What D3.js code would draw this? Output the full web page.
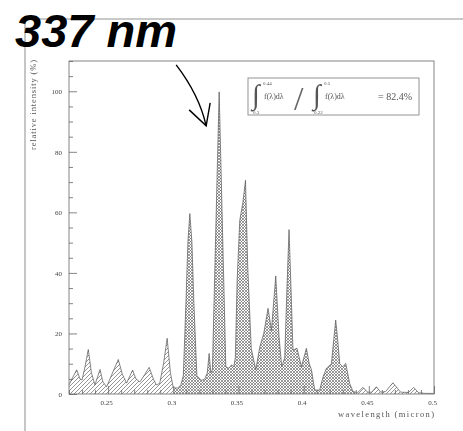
<!DOCTYPE html>
<html>
<head>
<meta charset="utf-8">
<script src="https://cdn.jsdelivr.net/npm/d3@7"></script>
<style>
  html, body { margin: 0; padding: 0; background: #fff; }
  svg { display: block; }
</style>
</head>
<body>
<svg id="chart" width="463" height="431"></svg>
<script>
// Emission spectrum sampled along the wavelength axis (micron) and relative intensity (%)
const wavelength = [
  0.2200, 0.2223, 0.2259, 0.2284, 0.2300, 0.2323, 0.2348, 0.2372, 0.2399, 0.2418,
  0.2438, 0.2460, 0.2489, 0.2529, 0.2578, 0.2609, 0.2642, 0.2688, 0.2713, 0.2744,
  0.2782, 0.2815, 0.2847, 0.2870, 0.2896, 0.2925, 0.2953, 0.2978, 0.3000,
  0.3035, 0.3058, 0.3077, 0.3097, 0.3112, 0.3127, 0.3143, 0.3158, 0.3181, 0.3217,
  0.3242, 0.3261, 0.3275, 0.3288, 0.3300, 0.3352, 0.3403, 0.3426, 0.3447, 0.3464,
  0.3476, 0.3490, 0.3510, 0.3533, 0.3554, 0.3571, 0.3598, 0.3633, 0.3664, 0.3694,
  0.3727, 0.3753, 0.3786, 0.3811, 0.3832, 0.3855, 0.3872, 0.3888, 0.3903, 0.3918,
  0.3949, 0.3983, 0.4021, 0.4043, 0.4060, 0.4085, 0.4123, 0.4149, 0.4175, 0.4213,
  0.4231, 0.4246, 0.4261, 0.4277, 0.4300, 0.4323, 0.4353, 0.4379, 0.4400,
  0.4415, 0.4455, 0.4491, 0.4522, 0.4558, 0.4591, 0.4629, 0.4685, 0.4744, 0.4805,
  0.4844, 0.4882, 0.4936, 0.5000
];
const intensity = [
  3.0, 5.0, 8.0, 5.0, 4.6, 9.0, 14.7, 7.0, 3.0, 5.5,
  8.1, 4.0, 2.4, 6.5, 11.4, 6.5, 3.6, 7.9, 5.0, 4.0,
  6.5, 8.8, 5.0, 3.0, 3.5, 10.0, 18.4, 7.0, 2.0,
  2.0, 3.0, 6.0, 30.0, 50.0, 59.6, 50.0, 30.0, 6.0, 4.5,
  5.0, 7.0, 13.4, 7.0, 8.0, 99.8, 9.0, 8.5, 9.6, 9.0,
  12.0, 37.6, 57.4, 63.0, 70.6, 42.0, 15.0, 8.0, 15.6, 20.0,
  28.3, 21.0, 39.0, 19.0, 9.0, 12.0, 35.0, 54.3, 35.0, 14.5,
  15.1, 9.0, 15.1, 10.0, 8.0, 1.3, 1.3, 5.7, 8.5, 10.0,
  18.0, 24.4, 18.0, 10.0, 9.0, 10.1, 3.5, 0.8, 0.6,
  0.5, 2.2, 0.6, 0.6, 2.4, 0.6, 0.8, 3.7, 0.6, 0.5,
  2.2, 0.4, 0.2, 0.2
];

// Axis ticks
const xMajorTicks = [0.25, 0.3, 0.35, 0.4, 0.45, 0.5];
const xTickLabels = ["0.25", "0.3", "0.35", "0.4", "0.45", "0.5"];
const yMajorTicks = [0, 20, 40, 60, 80, 100];
const yTickLabels = ["0", "20", "40", "60", "80", "100"];

// Integration bands: [0.22, 0.3] and [0.44, 0.5] outside, [0.3, 0.44] inside
const bandEdges = [0.22, 0.3, 0.44, 0.5];
const bandFill = ["diag", "cross", "diag"];
const integralLimits = { num: ["0.3", "0.44"], den: ["0.22", "0.5"] };
const ratioLabel = "= 82.4%";
const peakLabel = "337 nm";

const svg = d3.select("#chart");
const W = 463, H = 431;
const plot = { left: 69, right: 434, top: 61, bottom: 394 };

const x = d3.scaleLinear().domain([0.22, 0.5]).range([plot.left, plot.right]);
const y = d3.scaleLinear().domain([0, 110]).range([plot.bottom, plot.top]);

const data = wavelength.map((w, i) => [w, intensity[i]]);

const defs = svg.append("defs");

// Soft focus for the scanned figure
defs.append("filter").attr("id", "soft")
  .attr("x", "-5%").attr("y", "-5%").attr("width", "110%").attr("height", "110%")
  .append("feGaussianBlur").attr("stdDeviation", 0.6);

// Hatch patterns
const pDiag = defs.append("pattern").attr("id", "diag")
  .attr("patternUnits", "userSpaceOnUse").attr("width", 4).attr("height", 4);
pDiag.append("path").attr("d", "M-1,1 L1,-1 M0,4 L4,0 M3,5 L5,3")
  .attr("stroke", "#7a7a7a").attr("stroke-width", 0.8);

const pCross = defs.append("pattern").attr("id", "cross")
  .attr("patternUnits", "userSpaceOnUse").attr("width", 3).attr("height", 3);
pCross.append("path").attr("d", "M-1,1 L1,-1 M0,3 L3,0 M2,4 L4,2 M-1,2 L1,4 M0,0 L3,3 M2,-1 L4,1")
  .attr("stroke", "#606060").attr("stroke-width", 0.65);

bandEdges.slice(0, -1).forEach((e, i) => {
  defs.append("clipPath").attr("id", "band" + i)
    .append("rect")
    .attr("x", x(e)).attr("y", plot.top)
    .attr("width", x(bandEdges[i + 1]) - x(e))
    .attr("height", plot.bottom - plot.top);
});

const fig = svg.append("g").attr("filter", "url(#soft)");

// Page frame of the figure
fig.append("path")
  .attr("d", `M25,${H} L25,19 L${W},19`)
  .attr("fill", "none").attr("stroke", "#b8b8b8").attr("stroke-width", 1.6);

// Spectrum, one hatched area per integration band
const area = d3.area().x(d => x(d[0])).y0(y(0)).y1(d => y(d[1]));
const line = d3.line().x(d => x(d[0])).y(d => y(d[1]));

bandFill.forEach((f, i) => {
  fig.append("path").datum(data)
    .attr("d", area)
    .attr("clip-path", `url(#band${i})`)
    .attr("fill", `url(#${f})`);
});
fig.append("path").datum(data)
  .attr("d", line)
  .attr("fill", "none").attr("stroke", "#555").attr("stroke-width", 0.7);

// Plot frame
fig.append("rect")
  .attr("x", plot.left).attr("y", plot.top)
  .attr("width", plot.right - plot.left).attr("height", plot.bottom - plot.top)
  .attr("fill", "none").attr("stroke", "#777").attr("stroke-width", 0.9);

const tickFont = "'Liberation Serif', serif";

// Y axis: major and minor ticks pointing inward
fig.append("g").attr("transform", `translate(${plot.left},0)`)
  .call(d3.axisLeft(y).tickValues(yMajorTicks).tickSize(-8).tickPadding(7)
    .tickFormat((d, i) => yTickLabels[i]));
fig.append("g").attr("transform", `translate(${plot.left},0)`)
  .call(d3.axisLeft(y).tickValues(d3.range(0, 111, 5).filter(v => v % 20 !== 0))
    .tickSize(-4).tickFormat(""));

// X axis
const xAxis = fig.append("g").attr("transform", `translate(0,${plot.bottom})`)
  .call(d3.axisBottom(x).tickValues(xMajorTicks).tickSize(-8).tickPadding(6)
    .tickFormat((d, i) => xTickLabels[i]));
fig.append("g").attr("transform", `translate(0,${plot.bottom})`)
  .call(d3.axisBottom(x).tickValues(d3.range(22, 51).map(v => v / 100)
      .filter(v => !xMajorTicks.some(t => Math.abs(t - v) < 1e-6)))
    .tickSize(-4).tickFormat(""));

fig.selectAll(".domain").remove();
fig.selectAll(".tick line").attr("stroke", "#666").attr("stroke-width", 0.8);
fig.selectAll(".tick text")
  .attr("font-family", tickFont).attr("font-size", 7).attr("fill", "#444");
xAxis.selectAll(".tick text").attr("dx", -2);

// Axis titles
fig.append("text")
  .attr("transform", "translate(36,60) rotate(-90)")
  .attr("text-anchor", "end")
  .attr("font-family", tickFont).attr("font-size", 8.5).attr("fill", "#555")
  .attr("textLength", 90).attr("lengthAdjust", "spacing")
  .text("relative intensity (%)");

fig.append("text")
  .attr("x", plot.right).attr("y", 417)
  .attr("text-anchor", "end")
  .attr("font-family", tickFont).attr("font-size", 8.5).attr("fill", "#555")
  .attr("textLength", 96).attr("lengthAdjust", "spacing")
  .text("wavelength (micron)");

// Ratio of integrals box
const box = fig.append("g");
box.append("rect")
  .attr("x", 248).attr("y", 78).attr("width", 171).attr("height", 37)
  .attr("fill", "#fff").attr("stroke", "#888").attr("stroke-width", 0.9);

function integralTerm(g, x0, limits) {
  g.append("text").attr("x", x0).attr("y", 104)
    .attr("font-family", "'Liberation Serif', serif").attr("font-size", 28)
    .attr("font-style", "italic")
    .attr("fill", "#555").text("\u222B");
  g.append("text").attr("x", x0 + 11).attr("y", 84.5)
    .attr("font-family", tickFont).attr("font-size", 5).attr("fill", "#555").text(limits[1]);
  g.append("text").attr("x", x0 + 1).attr("y", 113.5)
    .attr("font-family", tickFont).attr("font-size", 5).attr("fill", "#555").text(limits[0]);
  g.append("text").attr("x", x0 + 12).attr("y", 99)
    .attr("font-family", tickFont).attr("font-size", 8).attr("fill", "#555").text("f(\u03BB)d\u03BB");
}
integralTerm(box, 252, integralLimits.num);
box.append("text").attr("x", 294).attr("y", 110)
  .attr("font-family", tickFont).attr("font-size", 34).attr("fill", "#666").text("/");
integralTerm(box, 313, integralLimits.den);
box.append("text").attr("x", 412).attr("y", 100)
  .attr("text-anchor", "end")
  .attr("font-family", tickFont).attr("font-size", 10).attr("fill", "#555").text(ratioLabel);

// Peak annotation
const iPeak = d3.maxIndex(intensity);
const px = x(wavelength[iPeak]), py = y(intensity[iPeak]);
const tip = [px - 13, py + 34];
const start = [px - 43, py - 27];
const ctrl = [px - 20, py + 3];
const note = svg.append("g");
note.append("path")
  .attr("d", `M${start} Q${ctrl} ${tip}`)
  .attr("fill", "none").attr("stroke", "#000").attr("stroke-width", 1.4);
note.append("path")
  .attr("d", `M${tip[0] - 17},${tip[1] - 16} L${tip} L${tip[0] + 4},${tip[1] - 23}`)
  .attr("fill", "none").attr("stroke", "#000").attr("stroke-width", 1.4)
  .attr("stroke-linejoin", "miter");

svg.append("text")
  .attr("x", 15).attr("y", 46.5)
  .attr("font-family", "'Liberation Sans', Arial, sans-serif")
  .attr("font-weight", "bold").attr("font-style", "italic")
  .attr("font-size", 47).attr("fill", "#000")
  .text(peakLabel);
</script>
</body>
</html>
